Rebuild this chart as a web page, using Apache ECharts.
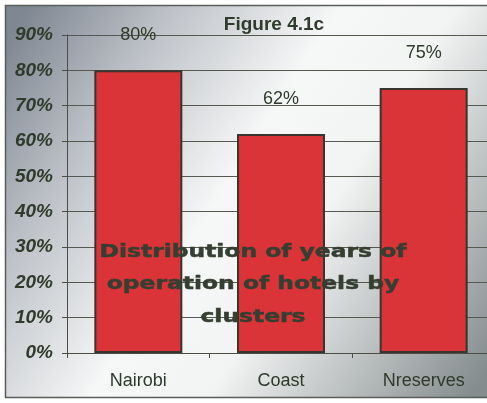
<!DOCTYPE html>
<html>
<head>
<meta charset="utf-8">
<script src="https://cdn.jsdelivr.net/npm/echarts@6/dist/echarts.min.js"></script>
<style>
  html, body { margin: 0; padding: 0; background: #ffffff; }
  #chart { width: 487px; height: 403px; }
</style>
</head>
<body>
<div id="chart"></div>
<script>
// Hotel clusters and share of hotels (percent)
const clusters = ['Nairobi', 'Coast', 'Nreserves'];
const shares = [80, 62, 75];
const yTicks = [0, 10, 20, 30, 40, 50, 60, 70, 80, 90];
const figureTitle = 'Figure 4.1c';
const noteLines = ['Distribution of years of', 'operation of hotels by', 'clusters'];

const ink = '#2f3b2c';
const chart = echarts.init(document.getElementById('chart'), null, { renderer: 'canvas' });

const noteText = noteLines.map((line, i) => ({
  type: 'text',
  z: 100,
  x: 253,
  y: 252 + i * 32.5,
  scaleX: 1.3,
  style: {
    text: line,
    fill: '#353f31',
    stroke: '#353f31',
    lineWidth: 0.5,
    font: 'bold 18px "DejaVu Sans", sans-serif',
    textAlign: 'center',
    textVerticalAlign: 'middle'
  }
}));

chart.setOption({
  backgroundColor: '#ffffff',
  animation: false,
  graphic: [
    {
      type: 'rect',
      z: -10,
      shape: { x: 5.5, y: 5.5, width: 490, height: 392 },
      style: {
        fill: {
          type: 'linear', x: 0, y: 0.1, x2: 1, y2: 0.9,
          colorStops: [
            { offset: 0, color: '#7f8792' },
            { offset: 0.2, color: '#bcc0c6' },
            { offset: 0.45, color: '#f6f7f7' },
            { offset: 0.62, color: '#f2f3f3' },
            { offset: 0.85, color: '#b0b5b6' },
            { offset: 1, color: '#848c8d' }
          ]
        },
        stroke: '#5a5e58',
        lineWidth: 1.5
      }
    },
    {
      type: 'text',
      z: 100,
      x: 274,
      y: 25,
      style: {
        text: figureTitle,
        fill: ink,
        font: 'bold 19px "Liberation Sans", Arial, sans-serif',
        textAlign: 'center',
        textVerticalAlign: 'middle'
      }
    }
  ].concat(noteText),
  grid: { left: 67, top: 35, width: 428, height: 318, outerBoundsMode: 'none' },
  xAxis: {
    type: 'category',
    data: clusters,
    axisLine: { show: true, lineStyle: { color: '#4a4e46', width: 1 } },
    axisTick: { show: true, length: 5, lineStyle: { color: '#4a4e46' } },
    axisLabel: {
      margin: 19,
      color: '#2e3a2c',
      fontSize: 18,
      fontFamily: '"Liberation Sans", Arial, sans-serif'
    }
  },
  yAxis: {
    type: 'value',
    min: yTicks[0],
    max: yTicks[yTicks.length - 1],
    interval: 10,
    axisLine: { show: true, lineStyle: { color: '#4a4e46', width: 1 } },
    axisTick: { show: true, length: 5, lineStyle: { color: '#4a4e46' } },
    splitLine: { show: true, lineStyle: { color: '#56594f', width: 1 } },
    axisLabel: {
      margin: 14,
      formatter: '{value}%',
      color: ink,
      fontSize: 19,
      fontWeight: 'bold',
      fontStyle: 'italic',
      fontFamily: '"Liberation Sans", Arial, sans-serif'
    }
  },
  series: [{
    type: 'bar',
    data: shares,
    barWidth: 88,
    itemStyle: { color: '#da3338', borderColor: '#3a3430', borderWidth: 2 },
    label: {
      show: true,
      position: 'top',
      distance: 26,
      formatter: '{c}%',
      color: ink,
      fontSize: 18,
      fontFamily: '"Liberation Sans", Arial, sans-serif'
    }
  }]
});
</script>
</body>
</html>
